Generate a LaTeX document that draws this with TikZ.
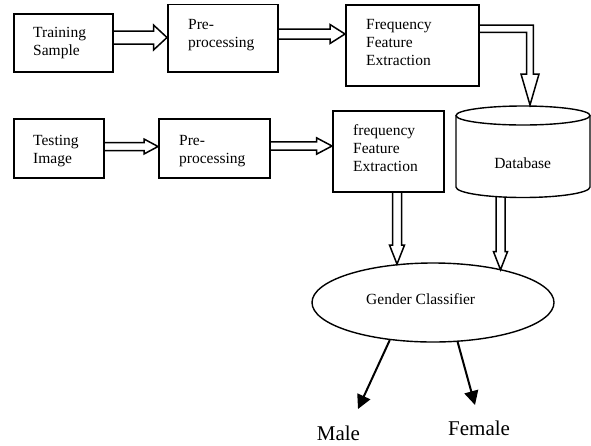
\documentclass[tikz,border=0pt]{standalone}
\usepackage{fontspec}
\setmainfont{Liberation Serif}
\usetikzlibrary{arrows.meta,calc,shapes.geometric}

% hollow block arrow, horizontal: #1 start, #2 tip, #3 shaft half width, #4 head half width, #5 head length
\newcommand\hollowH[5]{%
  \draw[hol] let \p1=(#1), \p2=(#2) in
    (\x1,\y1+#3pt) -- (\x2-#5pt,\y1+#3pt) -- (\x2-#5pt,\y1+#4pt) -- (\x2,\y1)
    -- (\x2-#5pt,\y1-#4pt) -- (\x2-#5pt,\y1-#3pt) -- (\x1,\y1-#3pt);}
% hollow block arrow, vertical (downwards)
\newcommand\hollowV[5]{%
  \draw[hol] let \p1=(#1), \p2=(#2) in
    (\x1-#3pt,\y1) -- (\x1-#3pt,\y2+#5pt) -- (\x1-#4pt,\y2+#5pt) -- (\x1,\y2)
    -- (\x1+#4pt,\y2+#5pt) -- (\x1+#3pt,\y2+#5pt) -- (\x1+#3pt,\y1);}

\begin{document}
\begin{tikzpicture}[x=1pt,y=1pt,
  box/.style={draw, line width=1.6pt, inner sep=0pt, anchor=north west},
  txt/.style={anchor=base west, inner sep=0pt, align=left, text width=90pt,
              font=\fontsize{15.5}{18.3}\selectfont},
  lbl/.style={inner sep=0pt, font=\fontsize{15.5}{18.3}\selectfont},
  big/.style={inner sep=0pt, anchor=base west, font=\fontsize{21}{24}\selectfont},
  hol/.style={line width=1.5pt, line join=miter},
  shapeline/.style={line width=1.4pt},
  outarrow/.style={line width=2pt, -{Triangle[length=14pt,width=14pt]}}]
\useasboundingbox (0,0) rectangle (591,-445);

% boxes
\node[box, minimum width=99pt,  minimum height=58pt]   (ts)   at (13,-13)   {};
\node[box, minimum width=110pt, minimum height=67.5pt] (pp1)  at (167,-3.5) {};
\node[box, minimum width=133pt, minimum height=81pt]   (ffe1) at (345,-4)   {};
\node[box, minimum width=90pt,  minimum height=59pt]   (ti)   at (13,-118)  {};
\node[box, minimum width=111pt, minimum height=59pt]   (pp2)  at (158,-118) {};
\node[box, minimum width=111pt, minimum height=81pt]   (ffe2) at (332,-110) {};

% box texts
\node[txt] (tsT)   at (33,-37.5) {Training\\Sample};
\node[txt] (pp1T)  at (188,-29)  {Pre-\\processing};
\node[txt] (ffe1T) at (366,-29)  {Frequency\\Feature\\Extraction};
\node[txt] (tiT)   at (33,-145)  {Testing\\Image};
\node[txt] (pp2T)  at (179,-145) {Pre-\\processing};
\node[txt] (ffe2T) at (353,-135) {frequency\\Feature\\Extraction};

% database cylinder
\draw[shapeline] (456,-115.5) -- (456,-187)
  arc[start angle=180, end angle=360, x radius=67, y radius=10.5] -- (590,-115.5);
\draw[shapeline] (523,-115.5) ellipse[x radius=67, y radius=9.5];
\node[lbl, anchor=base] (db) at (522.7,-168) {Database};
\coordinate (dbtop) at (530,-105);
\coordinate (dbbot) at (500.5,-197);

% classifier
\node[draw, ellipse, shapeline, inner sep=0pt, minimum width=242pt, minimum height=79pt] (gc) at (433,-302.5) {};
\node[lbl, anchor=base west] (gcT) at (366,-304) {Gender Classifier};

% outputs
\node[big] (male)   at (316.7,-440) {Male};
\node[big] (female) at (448,-435)   {Female};
\coordinate (mtip) at (358,-409);
\coordinate (ftip) at (475,-405);

% arrow levels
\coordinate (r1) at (0,-37.5);
\coordinate (r2) at (0,-34);
\coordinate (r3) at (0,-146.5);
\coordinate (r4) at (0,-146);
\coordinate (rb) at (0,-28.8);
\coordinate (c1) at (397,0);

% hollow arrows
\hollowH{ts.east |- r1}{pp1.west |- r1}{6.5}{12.5}{13.5}
\hollowH{pp1.east |- r2}{ffe1.west |- r2}{5}{9.5}{15}
\hollowH{ti.east |- r3}{pp2.west |- r3}{4}{7.5}{14}
\hollowH{pp2.east |- r4}{ffe2.west |- r4}{4.2}{8.2}{15.5}
\draw[hol] let \p1=(ffe1.east |- rb), \p2=(dbtop) in
  (\x1,\y1+3.6pt) -- (\x2+3.3pt,\y1+3.6pt) -- (\x2+3.3pt,\y2+31pt) -- (\x2+9pt,\y2+31pt)
  -- (\x2,\y2) -- (\x2-9pt,\y2+31pt) -- (\x2-3.3pt,\y2+31pt) -- (\x2-3.3pt,\y1-3.6pt)
  -- (\x1,\y1-3.6pt);
\hollowV{ffe2.south -| c1}{gc.133.7}{4.5}{7.5}{19}
\hollowV{dbbot}{gc.25.9}{4.5}{7}{18}

% output arrows
\draw[outarrow] (gc.221.4) -- (mtip);
\draw[outarrow] (gc.302.9) -- (ftip);
\end{tikzpicture}
\end{document}
